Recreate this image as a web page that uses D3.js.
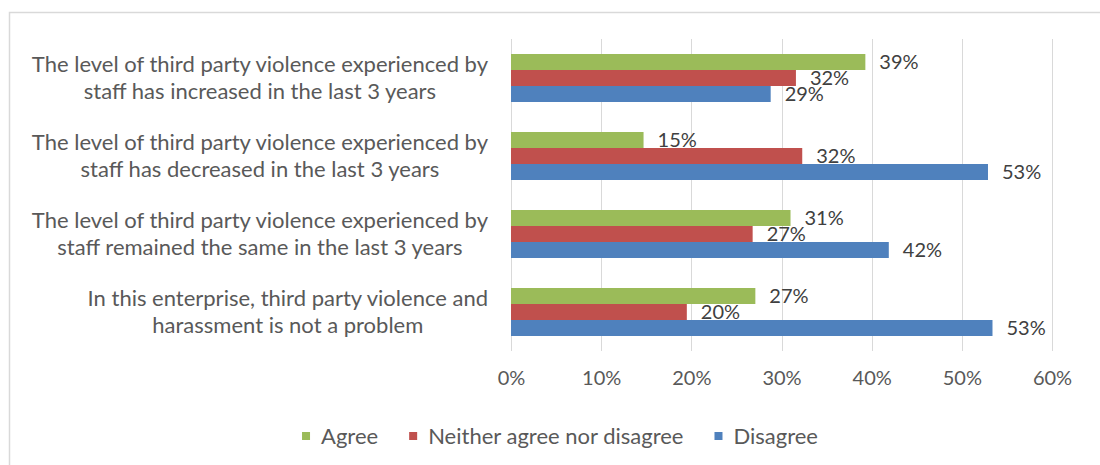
<!DOCTYPE html>
<html>
<head>
<meta charset="utf-8">
<script src="https://cdn.jsdelivr.net/npm/d3@7"></script>
<style>
  html, body { margin: 0; padding: 0; background: #fff; }
  svg { display: block; font-family: Lato, "Open Sans", sans-serif; }
</style>
</head>
<body>
<svg id="chart" width="1100" height="465"></svg>
<script>
// Survey statements (each wrapped onto two lines)
const categories = [
  ["The level of third party violence experienced by", "staff has increased in the last 3 years"],
  ["The level of third party violence experienced by", "staff has decreased in the last 3 years"],
  ["The level of third party violence experienced by", "staff remained the same in the last 3 years"],
  ["In this enterprise, third party violence and", "harassment is not a problem"]
];
const seriesNames = ["Agree", "Neither agree nor disagree", "Disagree"];
const seriesColors = ["#9BBB59", "#C0504D", "#4F81BD"];

// Share of respondents (%) per statement
const agree    = [39.3, 14.7, 31.0, 27.1];
const neither  = [31.6, 32.3, 26.8, 19.5];
const disagree = [28.8, 52.9, 41.9, 53.4];

const tickValues = [0, 10, 20, 30, 40, 50, 60];

const seriesValues = [agree, neither, disagree];
const catIds = categories.map((c, i) => i);

const svg = d3.select("#chart");
const plot = { left: 511, right: 1052, top: 39, bottom: 351 };
const wordSize = 22;   // category and legend text
const numSize = 20;    // tick and value labels

// Outer frame
svg.append("rect")
  .attr("x", 9.5).attr("y", 12.5)
  .attr("width", 1200).attr("height", 600)
  .attr("fill", "none").attr("stroke", "#d9d9d9").attr("stroke-width", 1.5);

const x = d3.scaleLinear().domain([0, 60]).range([plot.left, plot.right]);
const y0 = d3.scaleBand().domain(catIds).range([plot.top, plot.bottom]);
const y1 = d3.scaleBand().domain(d3.range(seriesNames.length)).range([15, 63]);

// Vertical gridlines
svg.append("g")
  .selectAll("line")
  .data(tickValues)
  .join("line")
  .attr("x1", d => Math.round(x(d)) + 0.5).attr("x2", d => Math.round(x(d)) + 0.5)
  .attr("y1", plot.top).attr("y2", plot.bottom)
  .attr("stroke", "#d9d9d9").attr("stroke-width", 1);

// X axis tick labels
const xAxis = d3.axisBottom(x).tickValues(tickValues).tickFormat(d => d + "%").tickSize(0).tickPadding(0);
const gx = svg.append("g").attr("transform", `translate(0,${plot.bottom + 20})`).call(xAxis);
gx.select(".domain").remove();
gx.selectAll("text")
  .attr("font-family", "Lato, sans-serif")
  .attr("font-size", numSize)
  .attr("fill", "#595959");

// Bars + value labels
const groups = svg.append("g")
  .selectAll("g")
  .data(catIds)
  .join("g")
  .attr("transform", d => `translate(0,${y0(d)})`);

groups.selectAll("rect")
  .data(ci => seriesValues.map((vals, si) => ({ si, v: vals[ci] })))
  .join("rect")
  .attr("x", x(0))
  .attr("y", d => y1(d.si))
  .attr("width", d => x(d.v) - x(0))
  .attr("height", y1.bandwidth())
  .attr("fill", d => seriesColors[d.si]);

groups.selectAll("text.val")
  .data(ci => seriesValues.map((vals, si) => ({ si, v: vals[ci] })))
  .join("text")
  .attr("class", "val")
  .attr("x", d => x(d.v) + 14)
  .attr("y", d => y1(d.si) + y1.bandwidth() / 2)
  .attr("dy", "0.35em")
  .attr("font-size", numSize)
  .attr("fill", "#404040")
  .text(d => Math.round(d.v) + "%");

// Category labels, two centred lines, right edge near the plot
const labelRight = 488;
const lineGap = 27;
categories.forEach((lines, ci) => {
  const cy = y0(ci) + y0.bandwidth() / 2;
  const g = svg.append("g");
  const texts = lines.map((ln, li) => g.append("text")
    .attr("y", cy + (li - (lines.length - 1) / 2) * lineGap)
    .attr("dy", "0.35em")
    .attr("text-anchor", "middle")
    .attr("font-size", wordSize)
    .attr("fill", "#595959")
    .text(ln));
  const maxW = d3.max(texts, t => t.node().getComputedTextLength());
  texts.forEach(t => t.attr("x", labelRight - maxW / 2));
});

// Legend
const legendItems = seriesNames.map((n, i) => ({ n, c: seriesColors[i] }));
const legend = svg.append("g").attr("transform", "translate(0,436)");
const items = legend.selectAll("g").data(legendItems).join("g");
items.append("rect")
  .attr("x", 0).attr("y", -4).attr("width", 8).attr("height", 8)
  .attr("fill", d => d.c);
items.append("text")
  .attr("x", 19).attr("dy", "0.35em")
  .attr("font-size", wordSize)
  .attr("fill", "#595959")
  .text(d => d.n);
const widths = [];
items.each(function () { widths.push(this.getBBox().width); });
const gap = 31;
const total = d3.sum(widths) + gap * (widths.length - 1);
let cx = 560 - total / 2;
items.attr("transform", (d, i) => {
  const t = `translate(${cx},0)`;
  cx += widths[i] + gap;
  return t;
});
</script>
</body>
</html>
